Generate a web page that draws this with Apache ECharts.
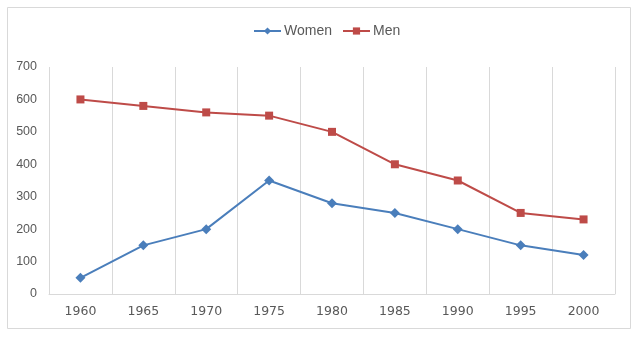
<!DOCTYPE html>
<html><head><meta charset="utf-8">
<script src="https://cdn.jsdelivr.net/npm/echarts@6/dist/echarts.min.js"></script>
<style>html,body{margin:0;padding:0;background:#fff}#c{width:638px;height:340px}</style>
</head><body><div id="c"></div>
<script>
const years = ['1960','1965','1970','1975','1980','1985','1990','1995','2000'];
const women = [50,150,200,350,280,250,200,150,120];
const men = [600,580,560,550,500,400,350,250,230];
const yTicks = [0,100,200,300,400,500,600,700];

const chart = echarts.init(document.getElementById('c'), null, {renderer:'canvas'});
chart.setOption({
  animation:false,
  backgroundColor:'#fff',
  graphic:[{type:'rect',shape:{x:7.5,y:7.5,width:623,height:321},style:{fill:'none',stroke:'#d9d9d9',lineWidth:1},silent:true}],
  legend:{
    top:19, left:248, itemWidth:27, itemHeight:9, itemGap:10,
    textStyle:{color:'#595959',fontSize:14,fontFamily:'Liberation Sans, Arial, sans-serif',padding:[0,0,0,-2]},
    data:['Women','Men']
  },
  grid:{left:49,right:23,top:67,bottom:46,containLabel:false},
  xAxis:{
    type:'category', data:years, boundaryGap:true,
    axisLine:{show:true,lineStyle:{color:'#d9d9d9',width:1}},
    axisTick:{show:false},
    axisLabel:{color:'#595959',fontSize:12.5,fontFamily:'DejaVu Sans, sans-serif',margin:11},
    splitLine:{show:true,lineStyle:{color:'#d9d9d9',width:1}}
  },
  yAxis:{
    type:'value', min:yTicks[0], max:yTicks[yTicks.length-1], interval:100,
    axisLine:{show:false}, axisTick:{show:false}, splitLine:{show:false},
    axisLabel:{color:'#595959',fontSize:12.5,fontFamily:'Liberation Sans, Arial, sans-serif',margin:12}
  },
  series:[
    {name:'Women',type:'line',data:women,symbol:'diamond',symbolSize:10,
     itemStyle:{color:'#4a7ebb'},lineStyle:{color:'#4a7ebb',width:2}},
    {name:'Men',type:'line',data:men,symbol:'rect',symbolSize:8,
     itemStyle:{color:'#be4b48'},lineStyle:{color:'#be4b48',width:2}}
  ]
});
</script></body></html>
